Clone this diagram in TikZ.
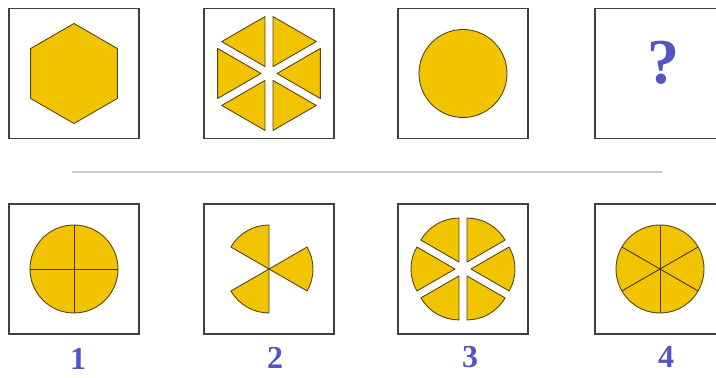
\documentclass[tikz,border=0pt]{standalone}
\usepackage{fontspec}
\setmainfont{Liberation Serif}
\usepackage{tikz}
\definecolor{gold}{RGB}{242,196,0}
\definecolor{rim}{RGB}{88,70,24}
\definecolor{numblue}{RGB}{84,84,196}
\definecolor{frame}{RGB}{64,64,64}

\begin{document}
\begin{tikzpicture}[
    x=1pt,
    y=1pt,
    panel/.style={draw=frame, line width=1.3pt, minimum size=130pt, inner sep=0pt, outer sep=0pt},
    piece/.style={fill=gold, draw=rim, line width=0.9pt, line join=round},
    cut/.style={draw=rim!80!black, line width=0.9pt},
    divider/.style={draw=black!22, line width=1.6pt},
    optnum/.style={text=numblue, font=\bfseries\fontsize{32}{32}\selectfont, inner sep=0pt}
  ]
    \useasboundingbox (0,0) rectangle (716,378);
    \clip (0,0) rectangle (716,378);

    % top row
    \node[panel] (t1) at (74,304.5) {};
    \node[panel] (t2) at (269,304.5) {};
    \node[panel] (t3) at (463,304.5) {};
    \node[panel] (t4) at (660,304.5) {};

    \begin{scope}[shift={(t1.center)}]
      \draw[piece] (90:50) \foreach \a in {150,210,...,390} {-- (\a:50)} -- cycle;
    \end{scope}
    \begin{scope}[shift={(t2.center)}]
      \foreach \a in {0,60,...,300}
        \draw[piece, shift={(\a+60:8)}] (0,0) -- (\a+30:50) -- (\a+90:50) -- cycle;
    \end{scope}
    \draw[piece] (t3.center) circle (44);
    \node[text=numblue, font=\bfseries\fontsize{64}{64}\selectfont, inner sep=0pt] (q) at (663,315.5) {?};

    \coordinate (sepl) at (72,206);
    \coordinate (sepr) at (662,206);
    \draw[divider] (sepl) -- (sepr);

    % answers
    \node[panel] (b1) at (74,109) {};
    \node[panel] (b2) at (269,109) {};
    \node[panel] (b3) at (463,109) {};
    \node[panel] (b4) at (660,109) {};

    \begin{scope}[shift={(b1.center)}]
      \draw[piece] (0,0) circle (44);
      \draw[cut] (-44,0) -- (44,0);
      \draw[cut] (0,-44) -- (0,44);
    \end{scope}
    \begin{scope}[shift={(b2.center)}]
      \foreach \a in {90,210,330}
        \draw[piece] (0,0) -- (\a:44) arc[start angle=\a, end angle=\a+60, radius=44] -- cycle;
    \end{scope}
    \begin{scope}[shift={(b3.center)}]
      \foreach \a in {0,60,...,300}
        \draw[piece, shift={(\a+60:8)}] (0,0) -- (\a+30:44)
          arc[start angle=\a+30, end angle=\a+90, radius=44] -- cycle;
    \end{scope}
    \begin{scope}[shift={(b4.center)}]
      \draw[piece] (0,0) circle (44);
      \foreach \a in {30,90,150}
        \draw[cut] (\a:44) -- (\a+180:44);
    \end{scope}

    \node[optnum] (l1) at (78,19.5) {1};
    \node[optnum] (l2) at (275,20.5) {2};
    \node[optnum] (l3) at (470,21) {3};
    \node[optnum] (l4) at (666,21) {4};
  \end{tikzpicture}
\end{document}
